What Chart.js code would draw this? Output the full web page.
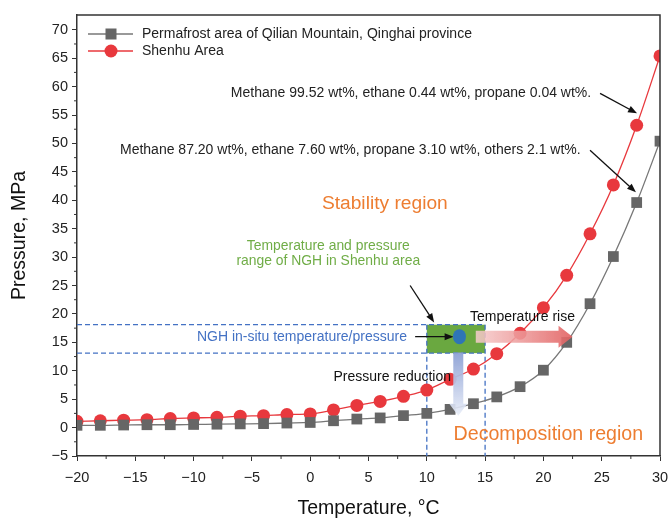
<!DOCTYPE html>
<html>
<head>
<meta charset="utf-8">
<script src="https://cdn.jsdelivr.net/npm/chart.js@4.4.1/dist/chart.umd.min.js"></script>
<style>
  body { margin: 0; background: #fff; }
  #box { width: 668px; height: 520px; }
</style>
</head>
<body>
<div id="box"><canvas id="myChart" width="668" height="520"></canvas></div>
<script>
'use strict'

// temperature (°C) and equilibrium pressure (MPa)
const temps = [-20, -18, -16, -14, -12, -10, -8, -6, -4, -2, 0, 2, 4, 6, 8, 10, 12, 14, 16, 18, 20, 22, 24, 26, 28, 30];
const qilian = [0.4, 0.4, 0.45, 0.5, 0.5, 0.55, 0.6, 0.65, 0.7, 0.8, 0.9, 1.2, 1.5, 1.7, 2.1, 2.5, 3.2, 4.2, 5.4, 7.2, 10.1, 15.0, 21.8, 30.1, 39.6, 50.4];
const shenhu = [1.1, 1.2, 1.3, 1.4, 1.6, 1.7, 1.8, 2.0, 2.1, 2.3, 2.4, 3.1, 3.9, 4.6, 5.5, 6.6, 8.5, 10.3, 13.0, 16.6, 21.1, 26.8, 34.1, 42.7, 53.2, 65.4];
const seriesNames = ['Permafrost area of Qilian Mountain, Qinghai province', 'Shenhu Area'];

// NGH range in Shenhu area
const ngTemp = [10, 15];
const ngPress = [13.1, 18.1];
const ngPoint = [12.8, 16.0];

const FONT = "'Liberation Sans', Arial, sans-serif";
const RED = '#e8383d';
const GREY = '#666666';

function minus(v) {
  return String(v).replace('-', '\u2212');
}

function arrow(ctx, x1, y1, x2, y2, color) {
  const a = Math.atan2(y2 - y1, x2 - x1);
  ctx.save();
  ctx.strokeStyle = color;
  ctx.fillStyle = color;
  ctx.lineWidth = 1.3;
  ctx.beginPath();
  ctx.moveTo(x1, y1);
  ctx.lineTo(x2 - 6 * Math.cos(a), y2 - 6 * Math.sin(a));
  ctx.stroke();
  ctx.beginPath();
  ctx.moveTo(x2, y2);
  ctx.lineTo(x2 - 9 * Math.cos(a) + 3.5 * Math.sin(a), y2 - 9 * Math.sin(a) - 3.5 * Math.cos(a));
  ctx.lineTo(x2 - 9 * Math.cos(a) - 3.5 * Math.sin(a), y2 - 9 * Math.sin(a) + 3.5 * Math.cos(a));
  ctx.closePath();
  ctx.fill();
  ctx.restore();
}

function text(ctx, str, x, y, size, color, align) {
  ctx.save();
  ctx.font = size + 'px ' + FONT;
  ctx.fillStyle = color;
  ctx.textAlign = align || 'left';
  ctx.textBaseline = 'middle';
  ctx.fillText(str, x, y);
  ctx.restore();
}

// frame, minor ticks, legend
const framePlugin = {
  id: 'frame',
  afterDraw(chart) {
    const ctx = chart.ctx;
    const a = chart.chartArea;
    const xs = chart.scales.x, ys = chart.scales.y;
    ctx.save();
    ctx.strokeStyle = '#333';
    ctx.lineWidth = 1.5;
    ctx.beginPath();
    ctx.moveTo(a.left, a.top);
    ctx.lineTo(a.right, a.top);
    ctx.lineTo(a.right, a.bottom);
    ctx.stroke();
    ctx.lineWidth = 1;
    ctx.beginPath();
    for (let v = -17.5; v < 30; v += 5) {
      const px = xs.getPixelForValue(v);
      ctx.moveTo(px, a.bottom);
      ctx.lineTo(px, a.bottom + 3);
    }
    for (let v = -2.5; v < 72; v += 5) {
      const py = ys.getPixelForValue(v);
      ctx.moveTo(a.left, py);
      ctx.lineTo(a.left - 3, py);
    }
    ctx.stroke();
    ctx.restore();

    // legend inside the plot
    const lx = a.left + 11, tx = a.left + 65;
    const rows = [a.top + 19, a.top + 36];
    chart.data.datasets.forEach(function (ds, i) {
      const y = rows[i];
      ctx.save();
      ctx.strokeStyle = ds.borderColor;
      ctx.lineWidth = 1.3;
      ctx.beginPath();
      ctx.moveTo(lx, y);
      ctx.lineTo(lx + 45, y);
      ctx.stroke();
      ctx.fillStyle = ds.pointBackgroundColor;
      if (i === 0) {
        ctx.fillRect(lx + 17.5, y - 5.5, 11, 11);
      } else {
        ctx.beginPath();
        ctx.arc(lx + 23, y, 6.5, 0, Math.PI * 2);
        ctx.fill();
      }
      ctx.restore();
      text(ctx, ds.label, tx, y, 14, '#222');
    });
  }
};

// NGH box and dashed guide lines, under the curves
const rangePlugin = {
  id: 'range',
  beforeDatasetsDraw(chart) {
    const ctx = chart.ctx;
    const xs = chart.scales.x, ys = chart.scales.y;
    const x0 = xs.getPixelForValue(ngTemp[0]), x1 = xs.getPixelForValue(ngTemp[1]);
    const y0 = ys.getPixelForValue(ngPress[0]), y1 = ys.getPixelForValue(ngPress[1]);
    ctx.save();
    ctx.fillStyle = '#6aa840';
    ctx.fillRect(x0, y1, x1 - x0, y0 - y1);
    ctx.strokeStyle = '#4472c4';
    ctx.lineWidth = 1.3;
    ctx.setLineDash([5, 3]);
    ctx.beginPath();
    ctx.moveTo(xs.left, y1); ctx.lineTo(x1, y1);
    ctx.moveTo(xs.left, y0); ctx.lineTo(x1, y0);
    ctx.moveTo(x0, y1); ctx.lineTo(x0, ys.bottom);
    ctx.moveTo(x1, y1); ctx.lineTo(x1, ys.bottom);
    ctx.stroke();
    ctx.restore();
  }
};

// texts and arrows on top
const notePlugin = {
  id: 'notes',
  afterDatasetsDraw(chart) {
    const ctx = chart.ctx;
    const xs = chart.scales.x, ys = chart.scales.y;
    const X = v => xs.getPixelForValue(v);
    const Y = v => ys.getPixelForValue(v);

    text(ctx, 'Methane 99.52 wt%, ethane 0.44 wt%, propane 0.04 wt%.', X(24.1), Y(58.8), 14, '#222', 'right');
    arrow(ctx, X(24.86), Y(58.8), X(28.03), Y(55.3), '#111');
    text(ctx, 'Methane 87.20 wt%, ethane 7.60 wt%, propane 3.10 wt%, others 2.1 wt%.', X(23.2), Y(48.9), 14, '#222', 'right');
    arrow(ctx, X(24.0), Y(48.8), X(27.94), Y(41.4), '#111');

    text(ctx, 'Stability region', X(6.4), Y(39.4), 19.2, '#ed7d31', 'center');
    text(ctx, 'Temperature and pressure', X(1.55), Y(31.9), 13.9, '#70ad47', 'center');
    text(ctx, 'range of NGH in Shenhu area', X(1.55), Y(29.2), 13.9, '#70ad47', 'center');
    arrow(ctx, X(8.57), Y(25.0), X(10.63), Y(18.5), '#111');

    text(ctx, 'NGH in-situ temperature/pressure', X(8.3), Y(ngPoint[1]), 14, '#4472c4', 'right');
    arrow(ctx, X(9.0), Y(ngPoint[1]), X(12.3), Y(ngPoint[1]), '#111');

    // temperature rise arrow
    const ay = Y(ngPoint[1]);
    const ax0 = X(14.2), ax1 = X(22.5);
    let g = ctx.createLinearGradient(ax0, 0, ax1, 0);
    g.addColorStop(0, 'rgba(246,205,205,0.85)');
    g.addColorStop(1, 'rgba(226,96,96,0.9)');
    ctx.save();
    ctx.fillStyle = g;
    ctx.beginPath();
    ctx.moveTo(ax0, ay - 6);
    ctx.lineTo(ax1 - 14, ay - 6);
    ctx.lineTo(ax1 - 14, ay - 11);
    ctx.lineTo(ax1, ay);
    ctx.lineTo(ax1 - 14, ay + 11);
    ctx.lineTo(ax1 - 14, ay + 6);
    ctx.lineTo(ax0, ay + 6);
    ctx.closePath();
    ctx.fill();
    ctx.restore();
    text(ctx, 'Temperature rise', X(13.7), Y(19.5), 14, '#111');

    // pressure reduction arrow
    const bx = X(12.7);
    const by0 = Y(13.2), by1 = Y(2.1);
    g = ctx.createLinearGradient(0, by0, 0, by1);
    g.addColorStop(0, 'rgba(140,160,212,0.95)');
    g.addColorStop(1, 'rgba(232,237,248,0.9)');
    ctx.save();
    ctx.fillStyle = g;
    ctx.beginPath();
    ctx.moveTo(bx - 5, by0);
    ctx.lineTo(bx + 5, by0);
    ctx.lineTo(bx + 5, by1 - 12);
    ctx.lineTo(bx + 9, by1 - 12);
    ctx.lineTo(bx, by1);
    ctx.lineTo(bx - 9, by1 - 12);
    ctx.lineTo(bx - 5, by1 - 12);
    ctx.closePath();
    ctx.fill();
    ctx.restore();
    text(ctx, 'Pressure reduction', X(2.0), Y(8.8), 14, '#111');

    // in-situ point
    ctx.save();
    ctx.fillStyle = '#2e75b6';
    ctx.beginPath();
    ctx.ellipse(X(ngPoint[0]), Y(ngPoint[1]), 6.5, 7.5, 0, 0, Math.PI * 2);
    ctx.fill();
    ctx.restore();

    text(ctx, 'Decomposition region', X(12.3), Y(-1.2), 19.6, '#ed7d31');
  }
};

const ctx1 = document.getElementById('myChart');

new Chart(ctx1, {
  type: 'line',
  data: {
    labels: temps,
    datasets: [{
      label: seriesNames[0],
      data: temps.map((t, i) => ({x: t, y: qilian[i]})),
      borderColor: '#777777',
      borderWidth: 1.3,
      pointStyle: 'rect',
      pointRadius: 7.6,
      pointBorderWidth: 0,
      pointBackgroundColor: GREY,
      cubicInterpolationMode: 'monotone'
    }, {
      label: seriesNames[1],
      data: temps.map((t, i) => ({x: t, y: shenhu[i]})),
      borderColor: RED,
      borderWidth: 1.3,
      pointStyle: 'circle',
      pointRadius: 6.5,
      pointBorderWidth: 0,
      pointBackgroundColor: RED,
      cubicInterpolationMode: 'monotone'
    }]
  },
  options: {
    responsive: false,
    animation: false,
    layout: { padding: { top: 15, right: 8, left: 0, bottom: 0 } },
    plugins: {
      legend: { display: false },
      tooltip: { enabled: false }
    },
    scales: {
      x: {
        type: 'linear',
        min: -20,
        max: 30,
        afterFit: s => { s.height = 64; s.paddingLeft = 0; s.paddingRight = 0; },
        border: { display: true, color: '#333', width: 1.5 },
        grid: { drawOnChartArea: false, drawTicks: true, tickLength: 5, tickColor: '#333', tickWidth: 1 },
        ticks: {
          stepSize: 5,
          includeBounds: false,
          maxRotation: 0,
          padding: 8,
          color: '#222',
          font: { family: FONT, size: 14.5 },
          callback: v => minus(v)
        },
        title: {
          display: true,
          text: 'Temperature, \u00b0C',
          color: '#111',
          padding: { top: 0, bottom: 0 },
          font: { family: FONT, size: 19.5 }
        }
      },
      y: {
        type: 'linear',
        min: -5,
        max: 72.6,
        afterFit: s => { s.width = 77; s.paddingTop = 0; s.paddingBottom = 0; },
        border: { display: true, color: '#333', width: 1.5 },
        grid: { drawOnChartArea: false, drawTicks: true, tickLength: 5, tickColor: '#333', tickWidth: 1 },
        ticks: {
          stepSize: 5,
          includeBounds: false,
          padding: 4,
          color: '#222',
          font: { family: FONT, size: 14.5 },
          callback: v => minus(v)
        },
        title: {
          display: true,
          text: 'Pressure, MPa',
          color: '#111',
          padding: { top: 8, bottom: 0 },
          font: { family: FONT, size: 19.5 }
        }
      }
    }
  },
  plugins: [rangePlugin, notePlugin, framePlugin]
});
</script>
</body>
</html>
